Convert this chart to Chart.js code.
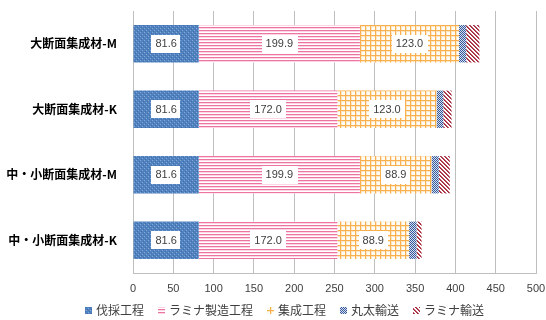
<!DOCTYPE html>
<html>
<head>
<meta charset="utf-8">
<script src="https://cdn.jsdelivr.net/npm/chart.js@4.4.1/dist/chart.umd.min.js"></script>
<style>
  html, body { margin: 0; padding: 0; background: #ffffff; }
  #wrap { width: 546px; height: 320px; position: relative; }
</style>
</head>
<body>
<div id="wrap"><canvas id="c" width="546" height="320"></canvas></div>
<script>
// Categories (top to bottom)
const categories = ['大断面集成材-M', '大断面集成材-K', '中・小断面集成材-M', '中・小断面集成材-K'];

// Series values per process stage
const felling      = [81.6, 81.6, 81.6, 81.6];     // 伐採工程
const laminaMaking = [199.9, 172.0, 199.9, 172.0]; // ラミナ製造工程
const gluing       = [123.0, 123.0, 88.9, 88.9];   // 集成工程
const logTransport = [8.8, 8.3, 9.0, 9.3];         // 丸太輸送
const laminaTrans  = [16.5, 10.3, 13.6, 6.2];      // ラミナ輸送

const seriesNames = ['伐採工程', 'ラミナ製造工程', '集成工程', '丸太輸送', 'ラミナ輸送'];

// Value axis
const axisMin = 0, axisMax = 500, axisStep = 50;

// Small repeating fills for each stage
function makePattern(w, h, paint) {
  const cv = document.createElement('canvas');
  cv.width = w; cv.height = h;
  const g = cv.getContext('2d');
  paint(g, w, h);
  return g.createPattern(cv, 'repeat');
}
function px(g, x, y, col) { g.fillStyle = col; g.fillRect(x, y, 1, 1); }

const fellingFill = makePattern(4, 4, (g) => {
  g.fillStyle = '#4f82be'; g.fillRect(0, 0, 4, 4);
  px(g, 0, 0, '#86a8d4'); px(g, 2, 2, '#86a8d4');
  px(g, 1, 3, '#426fab'); px(g, 3, 1, '#426fab');
});
const laminaFill = makePattern(3, 3, (g) => {
  g.fillStyle = '#ffffff'; g.fillRect(0, 0, 3, 3);
  g.fillStyle = '#ec74a1'; g.fillRect(0, 0, 3, 1);
  g.fillStyle = '#fcd6e4'; g.fillRect(0, 1, 3, 1);
});
const gluingFill = makePattern(5, 5, (g) => {
  g.fillStyle = '#fffcf6'; g.fillRect(0, 0, 5, 5);
  g.fillStyle = '#fde6c6'; g.fillRect(1, 0, 1, 5); g.fillRect(0, 1, 5, 1);
  g.fillStyle = '#f9b04f'; g.fillRect(0, 0, 1, 5); g.fillRect(0, 0, 5, 1);
});
const logFill = makePattern(2, 2, (g) => {
  g.fillStyle = '#d4deee'; g.fillRect(0, 0, 2, 2);
  px(g, 0, 0, '#35599a'); px(g, 1, 1, '#35599a');
});
const laminaTransFill = makePattern(4, 4, (g) => {
  g.fillStyle = '#ffffff'; g.fillRect(0, 0, 4, 4);
  for (let y = 0; y < 4; y++) {
    px(g, y % 4, y, '#a3283b');
    px(g, (y + 1) % 4, y, '#b8505f');
  }
});

const fills = [fellingFill, laminaFill, gluingFill, logFill, laminaTransFill];
const values = [felling, laminaMaking, gluing, logTransport, laminaTrans];

const datasets = seriesNames.map((name, i) => ({
  label: name,
  data: values[i],
  backgroundColor: fills[i],
  borderWidth: 0,
  barPercentage: 0.57,
  categoryPercentage: 1.0
}));

// Value boxes in the first three segments
const segmentLabels = {
  id: 'segmentLabels',
  afterDatasetsDraw(chart) {
    const ctx = chart.ctx;
    ctx.save();
    ctx.font = '11px "Liberation Sans", Arial, sans-serif';
    ctx.textAlign = 'center';
    ctx.textBaseline = 'middle';
    [0, 1, 2].forEach((di) => {
      const meta = chart.getDatasetMeta(di);
      meta.data.forEach((bar, i) => {
        const v = chart.data.datasets[di].data[i];
        const txt = v.toFixed(1);
        const p = bar.getProps(['x', 'y', 'base'], true);
        const cx = (p.x + p.base) / 2;
        const w = ctx.measureText(txt).width + 8;
        ctx.fillStyle = '#ffffff';
        ctx.fillRect(Math.round(cx - w / 2), Math.round(p.y - 9), Math.round(w), 18);
        ctx.fillStyle = '#404040';
        ctx.fillText(txt, cx, p.y + 0.5);
      });
    });
    ctx.restore();
  }
};

// Legend row drawn beneath the axis, using each dataset's own fill
const legendRow = {
  id: 'legendRow',
  afterDraw(chart) {
    const ctx = chart.ctx;
    ctx.save();
    ctx.font = '12px "Noto Sans CJK JP", sans-serif';
    ctx.textBaseline = 'middle';
    ctx.textAlign = 'left';
    const y = 310;
    let x = 85;
    chart.data.datasets.forEach((ds) => {
      ctx.fillStyle = ds.backgroundColor;
      ctx.fillRect(x, y - 3, 7, 7);
      x += 11;
      ctx.fillStyle = '#404040';
      ctx.fillText(ds.label, x, y + 0.5);
      x += ctx.measureText(ds.label).width + 14;
    });
    ctx.restore();
  }
};

new Chart(document.getElementById('c'), {
  type: 'bar',
  data: { labels: categories, datasets },
  plugins: [segmentLabels, legendRow],
  options: {
    indexAxis: 'y',
    responsive: false,
    animation: false,
    devicePixelRatio: 1,
    layout: { padding: { top: 11, right: 0, left: 0, bottom: 17 } },
    plugins: {
      legend: { display: false },
      tooltip: { enabled: false }
    },
    scales: {
      x: {
        stacked: true,
        min: axisMin,
        max: axisMax,
        ticks: {
          stepSize: axisStep,
          color: '#404040',
          padding: 9,
          font: { size: 11, family: '"Liberation Sans", Arial, sans-serif' }
        },
        grid: { color: '#bfbfbf', drawTicks: false },
        border: { color: '#bfbfbf' },
        afterFit(scale) { scale.height = 30; scale.paddingRight = 10; }
      },
      y: {
        stacked: true,
        ticks: {
          color: '#000000',
          padding: 8,
          font: { size: 12, weight: 'bold', family: '"Noto Sans CJK JP", sans-serif' }
        },
        grid: { display: false },
        border: { color: '#bfbfbf' },
        afterFit(scale) { scale.width = 133; scale.paddingTop = 0; scale.paddingBottom = 0; }
      }
    }
  }
});
</script>
</body>
</html>
